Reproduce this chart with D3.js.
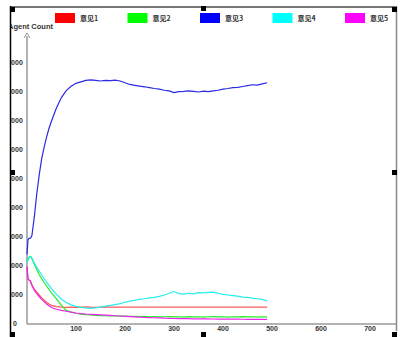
<!DOCTYPE html>
<html>
<head>
<meta charset="utf-8">
<script src="https://cdn.jsdelivr.net/npm/d3@7"></script>
<style>
  body { margin: 0; background: #fff; }
  svg { display: block; }
  text { font-family: "Liberation Sans", Arial, sans-serif; font-weight: bold; fill: #333; }
</style>
</head>
<body>
<svg id="chart" width="404" height="337"></svg>
<script>
// legend names / series colours
var names = ["意见1", "意见2", "意见3", "意见4", "意见5"];
var colors = ["#ff0000", "#00ff00", "#0000ff", "#00ffff", "#ff00ff"];
var lineColors = ["#ff5a5a", "#22ee22", "#2a2ae6", "#22eeee", "#ee22ee"];

// time steps
var steps = [0, 2, 4, 6, 8, 10, 15, 20, 25, 30, 35, 40, 45, 50,
  60, 70, 80, 90, 100, 110, 120, 130, 140, 150, 160, 170, 180, 190, 200,
  210, 220, 230, 240, 250, 260, 270, 280, 290, 300, 310, 320, 330, 340, 350,
  360, 370, 380, 390, 400, 410, 420, 430, 440, 450, 460, 470, 480, 490];

var opinion1 = [1980, 1550, 1520, 1500, 1450, 1350, 1200, 1100, 1000, 900, 820, 750, 690, 640,
  600, 585, 575, 580, 570, 585, 590, 580, 575, 585, 590, 580, 585, 580, 580,
  580, 580, 580, 580, 580, 580, 580, 580, 580, 580, 580, 580, 580, 580, 580,
  580, 580, 580, 580, 580, 580, 580, 580, 580, 580, 580, 580, 580, 580];

var opinion2 = [2150, 2250, 2300, 2330, 2320, 2250, 2050, 1880, 1700, 1560, 1430, 1310, 1190, 1070,
  870, 650, 470, 410, 370, 340, 320, 310, 300, 290, 285, 280, 275, 270, 270,
  265, 260, 255, 260, 250, 255, 245, 250, 255, 245, 250, 240, 255, 245, 250,
  240, 250, 255, 245, 250, 240, 250, 245, 255, 245, 250, 240, 250, 245];

var opinion3 = [2400, 2900, 2950, 2950, 2980, 3050, 3700, 4500, 5150, 5700, 6100, 6450, 6750, 7000,
  7450, 7800, 8050, 8200, 8300, 8350, 8400, 8420, 8400, 8380, 8400, 8390, 8410, 8380, 8320,
  8260, 8230, 8200, 8180, 8150, 8120, 8100, 8060, 8040, 7980, 8010, 8020, 8040, 8020, 8000,
  8030, 8010, 8040, 8060, 8100, 8120, 8150, 8160, 8190, 8220, 8250, 8240, 8280, 8320];

var opinion4 = [2100, 2200, 2280, 2320, 2320, 2270, 2100, 1950, 1820, 1690, 1560, 1440, 1330, 1220,
  1020, 860, 740, 660, 610, 575, 555, 540, 555, 585, 615, 640, 670, 700, 750,
  790, 820, 850, 870, 900, 920, 950, 1000, 1060, 1120, 1050, 1030, 1060, 1040, 1080,
  1070, 1090, 1100, 1060, 1020, 1000, 980, 960, 930, 920, 890, 870, 850, 800];

var opinion5 = [1980, 1550, 1520, 1500, 1420, 1330, 1170, 1050, 940, 850, 770, 690, 630, 570,
  510, 470, 440, 410, 380, 360, 345, 335, 325, 315, 305, 295, 285, 275, 265,
  255, 245, 235, 225, 220, 215, 210, 200, 195, 190, 188, 185, 182, 180, 178,
  176, 175, 172, 170, 170, 168, 166, 165, 164, 162, 162, 160, 160, 158];

var series = [opinion1, opinion2, opinion3, opinion4, opinion5];
var xTicks = [100, 200, 300, 400, 500, 600, 700];
var yTicks = [0, 1000, 2000, 3000, 4000, 5000, 6000, 7000, 8000, 9000];

var svg = d3.select("#chart");

var x = d3.scaleLinear().domain([0, 755]).range([27, 397]);
var y = d3.scaleLinear().domain([0, 9000]).range([324, 63]);

// clip everything left of the frame edge (labels get cut there)
svg.append("defs").append("clipPath").attr("id", "frameclip")
  .append("rect").attr("x", 11).attr("y", 0).attr("width", 386).attr("height", 337);

var inner = svg.append("g").attr("clip-path", "url(#frameclip)");

// legend
var leg = inner.selectAll(".leg").data(names).enter().append("g")
  .attr("class", "leg")
  .attr("transform", function (d, i) { return "translate(" + (55 + i * 72.5) + ",13)"; });
leg.append("rect").attr("width", 20).attr("height", 10)
  .attr("fill", function (d, i) { return colors[i]; });
leg.append("text").attr("x", 25).attr("y", 8)
  .style("font-family", "'Noto Sans CJK SC', sans-serif")
  .style("font-size", "7px")
  .text(function (d) { return d; });

// axis title
inner.append("text").attr("x", 8).attr("y", 29)
  .style("font-size", "7.5px").text("Agent Count");

// axes lines
inner.append("line").attr("x1", 27).attr("x2", 27).attr("y1", 36).attr("y2", 324)
  .attr("stroke", "#9a9a9a").attr("stroke-width", 1.5);
inner.append("path").attr("d", "M24,38L27,33L30,38")
  .attr("fill", "none").attr("stroke", "#9a9a9a").attr("stroke-width", 1);
inner.append("line").attr("x1", 27).attr("x2", 397).attr("y1", 324).attr("y2", 324)
  .attr("stroke", "#9a9a9a").attr("stroke-width", 1.5);

// y tick labels
inner.selectAll(".ylab").data(yTicks).enter().append("text")
  .attr("class", "ylab")
  .attr("x", 15).attr("y", function (d) { return y(d); })
  .attr("dy", "0.35em").attr("text-anchor", "middle")
  .style("font-size", "7px").style("fill", "#333")
  .text(function (d) { return d; });

// x tick labels
inner.selectAll(".xlab").data(xTicks).enter().append("text")
  .attr("class", "xlab")
  .attr("x", function (d) { return x(d); }).attr("y", 331)
  .attr("text-anchor", "middle")
  .style("font-size", "7px").style("fill", "#333")
  .text(function (d) { return d; });

// data lines
var line = d3.line()
  .x(function (d, i) { return x(steps[i]); })
  .y(function (d) { return y(d); });

inner.selectAll(".series").data(series).enter().append("path")
  .attr("class", "series")
  .attr("d", line)
  .attr("fill", "none")
  .attr("stroke", function (d, i) { return lineColors[i]; })
  .attr("stroke-width", 1.2);

// selection frame
svg.append("line").attr("x1", 10).attr("x2", 397).attr("y1", 7).attr("y2", 7)
  .attr("stroke", "#777").attr("stroke-width", 2);
svg.append("line").attr("x1", 10.5).attr("x2", 10.5).attr("y1", 6).attr("y2", 337)
  .attr("stroke", "#000").attr("stroke-width", 1.5);
svg.append("line").attr("x1", 396.5).attr("x2", 396.5).attr("y1", 6).attr("y2", 331)
  .attr("stroke", "#888").attr("stroke-width", 1.5);

var handles = [[10, 7], [201, 6], [392, 7], [10, 170], [392, 170], [10, 332], [201, 332], [392, 332]];
svg.selectAll(".handle").data(handles).enter().append("rect")
  .attr("class", "handle")
  .attr("x", function (d) { return d[0]; }).attr("y", function (d) { return d[1]; })
  .attr("width", 5).attr("height", 5).attr("fill", "#000");
</script>
</body>
</html>
